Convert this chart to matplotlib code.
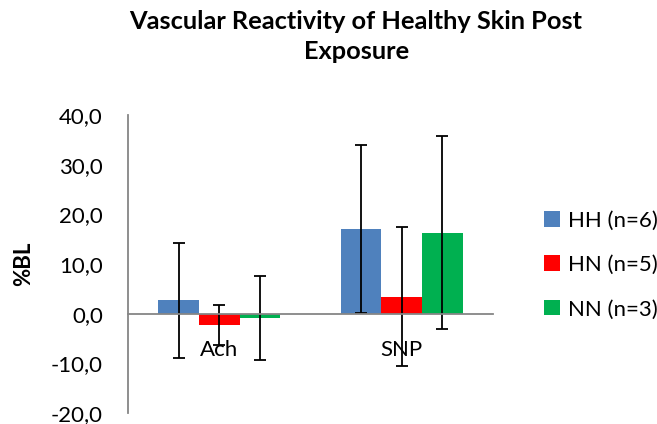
import matplotlib.pyplot as plt
import numpy as np
from matplotlib.patches import Patch

# mean %BL change and error per treatment, one list per group
categories = ["Ach", "SNP"]
groups = ["HH (n=6)", "HN (n=5)", "NN (n=3)"]
hh_mean = [2.7, 17.1]
hn_mean = [-2.3, 3.4]
nn_mean = [-0.9, 16.3]
hh_err = [11.6, 16.9]
hn_err = [4.1, 14.0]
nn_err = [8.5, 19.4]
yticks = [-20, -10, 0, 10, 20, 30, 40]

colors = ["#4F81BD", "#FF0000", "#00B050"]
means = [hh_mean, hn_mean, nn_mean]
errs = [hh_err, hn_err, nn_err]

plt.rcParams["font.family"] = ["Lato", "DejaVu Sans"]

fig = plt.figure(figsize=(6.57, 4.24), dpi=100)
ax = fig.add_axes([128 / 657, 1 - 413 / 424, 365 / 657, 298 / 424])

x = np.arange(len(categories))
width = 1 / 4.5
for i in range(3):
    ax.bar(x + (i - 1) * width, means[i], width, color=colors[i],
           yerr=errs[i], label=groups[i],
           error_kw=dict(ecolor="black", elinewidth=1.3, capsize=4.5, capthick=1.3))

ax.set_xlim(-0.5, 1.5)
ax.set_ylim(-20, 40)
ax.set_yticks(yticks)
ax.set_yticklabels([f"{v:.1f}".replace(".", ",") for v in yticks])
ax.set_xticks(x)
ax.set_xticklabels(categories)

for s in ["top", "right"]:
    ax.spines[s].set_visible(False)
ax.spines["bottom"].set_position(("data", 0))
ax.spines["bottom"].set_color("#868686")
ax.spines["left"].set_color("#868686")
ax.spines["bottom"].set_linewidth(1.3)
ax.spines["left"].set_linewidth(1.3)
ax.tick_params(axis="both", length=0, labelsize=16)
ax.tick_params(axis="y", pad=18)
ax.tick_params(axis="x", pad=19)

ax.set_ylabel("%BL", fontsize=16, fontweight="bold", labelpad=12)

fig.text(0.542, 1 - 10 / 424, "Vascular Reactivity of Healthy Skin Post\nExposure",
         ha="center", va="top", fontsize=18.3, fontweight="bold", linespacing=1.35)

handles = [Patch(facecolor=c, label=g) for c, g in zip(colors, groups)]
fig.legend(handles=handles, loc="center left", bbox_to_anchor=(524 / 657, 1 - 265 / 424),
           frameon=False, fontsize=16, handlelength=0.7, handleheight=0.7,
           handletextpad=0.4, labelspacing=1.1)

fig.savefig("out.png", dpi=100)
